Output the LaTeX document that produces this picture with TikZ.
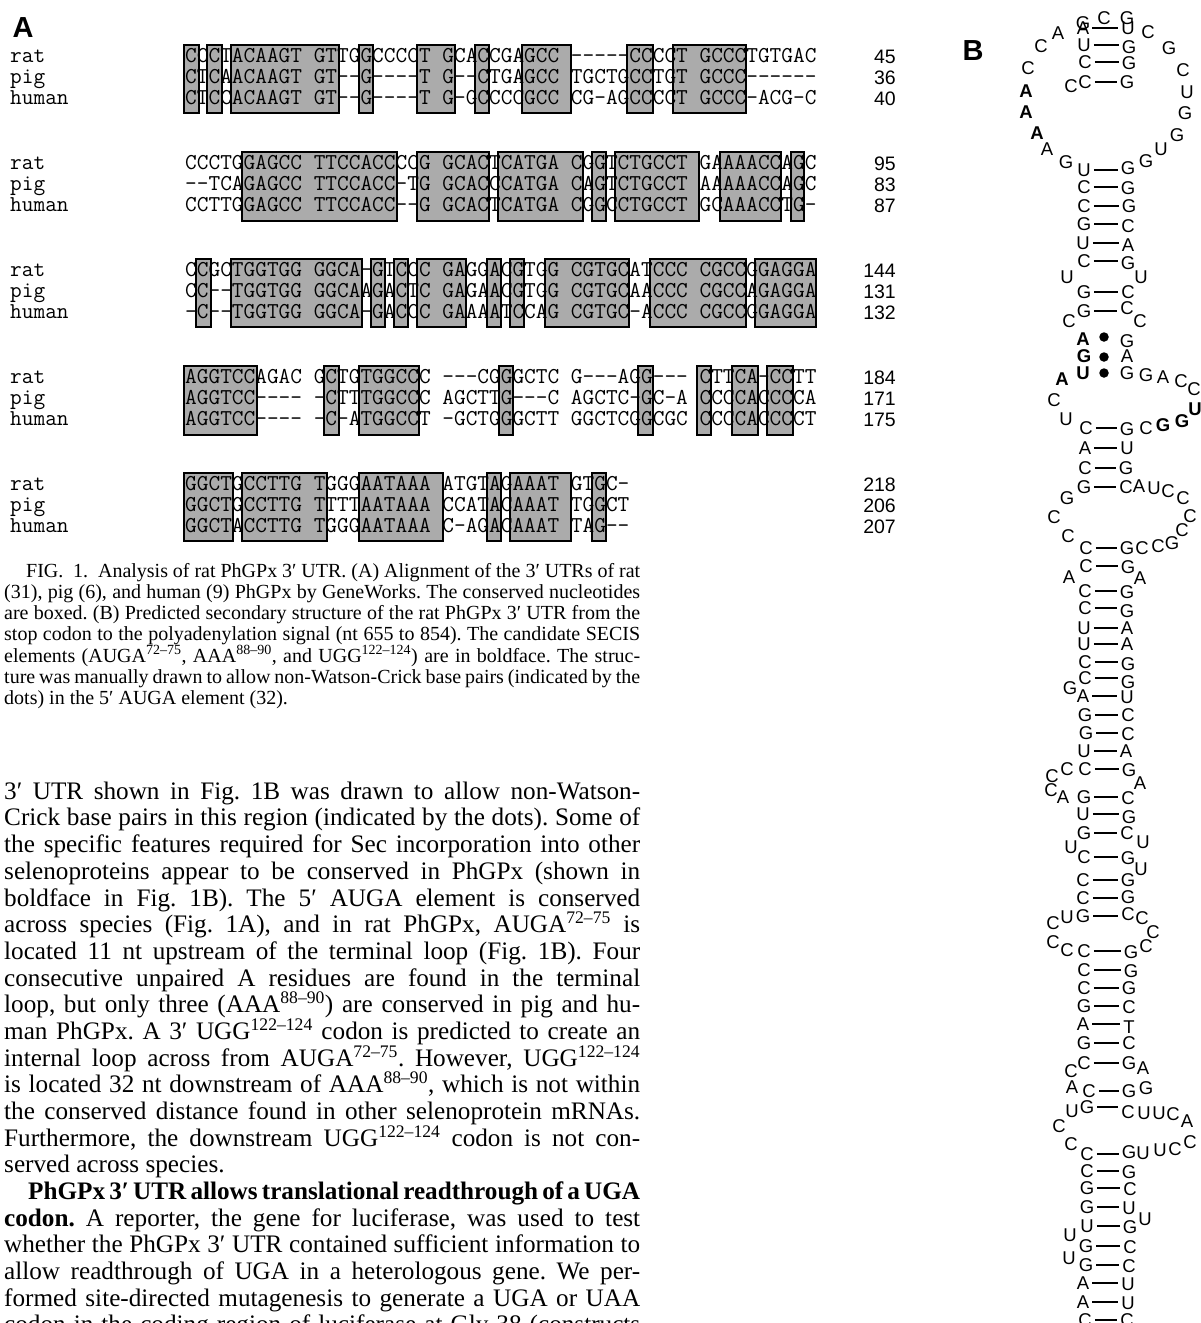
\documentclass[tikz,border=0pt]{standalone}
\usepackage{fontspec}
\setmainfont{Liberation Serif}
\setsansfont{Liberation Sans}

\newcommand{\fitline}[1]{\hbox to 636pt{\frenchspacing\spaceskip=.25em plus 1fil minus .2em\relax #1}}
\newcommand{\pr}{\char"2032\relax}

\tikzset{
	seqbox/.style={draw=black,line width=1.6pt,fill=black!33},
	seqrow/.style={anchor=base west,inner sep=0pt,font=\ttfamily\fontsize{22.7}{24}\selectfont},
	seqnum/.style={anchor=base east,inner sep=0pt,font=\sffamily\fontsize{19.5}{22}\selectfont},
	capline/.style={anchor=base west,inner sep=0pt,font=\fontsize{20}{21}\selectfont},
	bodyline/.style={anchor=base west,inner sep=0pt,font=\fontsize{25.2}{27}\selectfont},
	panel/.style={inner sep=0pt,font=\sffamily\bfseries\fontsize{29}{29}\selectfont},
	base/.style={inner sep=3pt,text height=13.2pt,text depth=0pt,font=\sffamily\fontsize{18.5}{19}\selectfont},
	boldbase/.style={base,font=\sffamily\bfseries\fontsize{18.5}{19}\selectfont},
	pairline/.style={line width=1.4pt},
	dotmark/.style={circle,fill=black,inner sep=0pt,minimum size=9.5pt}
}

\begin{document}
\begin{tikzpicture}[x=1pt,y=-1pt]
	\path[use as bounding box,clip] (0,0) rectangle (1200,1323);

	\node[panel] (panelA) at (23,28) {A};
	\node[panel] (panelB) at (973,51) {B};

	% Draw conserved boxes
	\foreach \t/\b/\xs in {
		45/113/{184/199,207/222,231/339,359/373,417/455,475/489,522/571,627/653,673/746},
		152/221/{242/397,417/489,498/583,592/606,615/699,720/781,791/804},
		259/327/{196/211,231/362,371/385,394/408,417/466,487/501,510/524,545/629,650/746,755/816},
		366/435/{184/257,324/339,359/419,499/513,638/653,697/711,732/758,767/793},
		473/541/{184/233,242/327,359/443,487/501,510/571,592/606}}{
		\foreach \a/\c in \xs {
			\draw[seqbox] (\a,\t) rectangle (\c,\b);
		}
	}

	% Draw alignment rows
	\foreach \y/\sa/\sb/\sc/\na/\nb/\nc [count=\i] in {
		62/CCCTACAAGT GTTGGCCCCT GCACCGAGCC -----CCCCT GCCCTGTGAC/CTCAACAAGT GT--G----T G--CTGAGCC TGCTGCCTGT GCCC------/CTCCACAAGT GT--G----T G-GCCCCGCC CG-AGCCCCT GCCC-ACG-C/45/36/40,
		169/CCCTGGAGCC TTCCACCCCG GCACTCATGA CGGTCTGCCT GAAAACCAGC/--TCAGAGCC TTCCACC-TG GCACCCATGA CAGTCTGCCT AAAAACCAGC/CCTTGGAGCC TTCCACC--G GCACTCATGA CGGCCTGCCT GCAAACCTG-/95/83/87,
		276/CCGCTGGTGG GGCA-GTCCC GAGGACGTGG CGTGCATCCC CGCCGGAGGA/CC--TGGTGG GGCAAGACTC GAGAACGTGG CGTGCAACCC CGCCAGAGGA/-C--TGGTGG GGCA-GACCC GAAAATCCAG CGTGC-ACCC CGCCGGAGGA/144/131/132,
		383/AGGTCCAGAC GCTGTGGCCC ---CGGGCTC G---AGG--- CTTCA-CCTT/AGGTCC---- -CTTTGGCCC AGCTTG---C AGCTC-GC-A CCCCACCCCA/AGGTCC---- -C-ATGGCCT -GCTGGGCTT GGCTCGGCGC CCCCACCCCT/184/171/175,
		490/GGCTGCCTTG TGGGAATAAA ATGTAGAAAT GTGC-/GGCTGCCTTG TTTTAATAAA CCATACAAAT TGGCT/GGCTACCTTG TGGGAATAAA C-AGACAAAT TAG--/218/206/207}{
		\node[seqrow] (rat\i) at (10,\y) {rat};
		\node[seqrow] (pig\i) at (10,\y+21) {pig};
		\node[seqrow] (human\i) at (10,\y+42) {human};
		\node[seqrow] (ratseq\i) at (185,\y) {\sa};
		\node[seqrow] (pigseq\i) at (185,\y+21) {\sb};
		\node[seqrow] (humanseq\i) at (185,\y+42) {\sc};
		\node[seqnum] (ratnum\i) at (896,\y+1) {\na};
		\node[seqnum] (pignum\i) at (896,\y+22) {\nb};
		\node[seqnum] (humannum\i) at (896,\y+43) {\nc};
	}

	% Draw caption
	\foreach \l [count=\i from 0] in {
		{\fitline{\hskip22pt FIG.\ \ 1.\ \ Analysis of rat PhGPx 3\pr\ UTR. (A) Alignment of the 3\pr\ UTRs of rat}},
		{\fitline{(31), pig (6), and human (9) PhGPx by GeneWorks. The conserved nucleotides}},
		{\fitline{are boxed. (B) Predicted secondary structure of the rat PhGPx 3\pr\ UTR from the}},
		{\fitline{stop codon to the polyadenylation signal (nt 655 to 854). The candidate SECIS}},
		{\fitline{elements (AUGA\textsuperscript{72--75}, AAA\textsuperscript{88--90}, and UGG\textsuperscript{122--124}) are in boldface. The struc-}},
		{\fitline{ture was manually drawn to allow non-Watson-Crick base pairs (indicated by the}},
		{dots) in the 5\pr\ AUGA element (32).}}{
		\node[capline] (cap\i) at (4,577+21.3*\i) {\l};
	}

	% Draw body text
	\foreach \l [count=\i from 0] in {
		{\fitline{3\pr\ UTR shown in Fig. 1B was drawn to allow non-Watson-}},
		{\fitline{Crick base pairs in this region (indicated by the dots). Some of}},
		{\fitline{the specific features required for Sec incorporation into other}},
		{\fitline{selenoproteins appear to be conserved in PhGPx (shown in}},
		{\fitline{boldface in Fig. 1B). The 5\pr\ AUGA element is conserved}},
		{\fitline{across species (Fig. 1A), and in rat PhGPx, AUGA\textsuperscript{72--75} is}},
		{\fitline{located 11 nt upstream of the terminal loop (Fig. 1B). Four}},
		{\fitline{consecutive unpaired A residues are found in the terminal}},
		{\fitline{loop, but only three (AAA\textsuperscript{88--90}) are conserved in pig and hu-}},
		{\fitline{man PhGPx. A 3\pr\ UGG\textsuperscript{122--124} codon is predicted to create an}},
		{\fitline{internal loop across from AUGA\textsuperscript{72--75}. However, UGG\textsuperscript{122--124}}},
		{\fitline{is located 32 nt downstream of AAA\textsuperscript{88--90}, which is not within}},
		{\fitline{the conserved distance found in other selenoprotein mRNAs.}},
		{\fitline{Furthermore, the downstream UGG\textsuperscript{122--124} codon is not con-}},
		{served across species.},
		{\fitline{\hskip24pt\textbf{PhGPx 3\pr\ UTR allows translational readthrough of a UGA}}},
		{\fitline{\textbf{codon.} A reporter, the gene for luciferase, was used to test}},
		{\fitline{whether the PhGPx 3\pr\ UTR contained sufficient information to}},
		{\fitline{allow readthrough of UGA in a heterologous gene. We per-}},
		{\fitline{formed site-directed mutagenesis to generate a UGA or UAA}},
		{\fitline{codon in the coding region of luciferase at Gly 38 (constructs}}}{
		\node[bodyline] (body\i) at (4,799.3+26.68*\i) {\l};
	}

	% Draw base pairs
	\foreach \xa/\ya/\ca/\xb/\yb/\cb [count=\i] in {
		1083/28/A/1128/28/U, 1084/45/U/1129/47/G, 1085/62/C/1129/63/G, 1085/82/C/1127/82/G,
		1084/170/U/1128/168/G, 1084/187/C/1128/188/G, 1084/206/C/1129/206/G, 1084/224/G/1128/226/C,
		1083/243/U/1128/245/A, 1084/261/C/1128/263/G, 1084/292/G/1128/292/C, 1084/311/G/1127/308/C,
		1086/428/C/1127/429/G, 1085/448/A/1127/448/U, 1085/468/C/1126/468/G, 1084/487/G/1126/487/C,
		1086/548/C/1127/548/G, 1086/566/C/1128/567/G, 1085/591/C/1127/592/G, 1085/608/C/1127/611/G,
		1084/628/U/1127/628/A, 1084/644/U/1127/644/A, 1085/662/C/1128/664/G, 1085/678/C/1128/682/G,
		1083/696/A/1127/697/U, 1085/715/G/1128/715/C, 1086/733/G/1128/734/C, 1084/751/U/1126/751/A,
		1085/769/C/1129/770/G, 1084/797/G/1128/798/C, 1083/814/U/1129/817/G, 1084/833/G/1127/833/C,
		1084/857/C/1128/858/G, 1083/880/C/1128/880/G, 1083/898/C/1128/897/G, 1083/916/G/1128/914/C,
		1084/951/C/1131/952/G, 1084/970/C/1131/971/G, 1084/988/C/1129/988/G, 1084/1006/G/1129/1007/C,
		1083/1024/A/1129/1027/T, 1084/1043/G/1129/1043/C, 1084/1063/C/1129/1063/G, 1089/1091/C/1129/1091/G,
		1087/1107/G/1128/1112/C, 1087/1154/C/1129/1152/G, 1087/1171/C/1129/1172/G, 1087/1188/G/1130/1189/C,
		1087/1207/G/1129/1208/U, 1087/1226/U/1130/1227/G, 1086/1246/G/1130/1247/C, 1086/1265/G/1129/1266/C,
		1083/1283/A/1128/1284/U, 1083/1302/A/1128/1303/U, 1085/1320/C/1127/1320/C}{
		\node[base] (pl\i) at (\xa,\ya) {\ca};
		\node[base] (pr\i) at (\xb,\yb) {\cb};
		\draw[pairline] (pl\i.east) -- (pl\i.east -| pr\i.west);
	}

	% Draw unpaired bases
	\foreach \x/\y/\c [count=\i] in {
		1083/23/G, 1104/18/C, 1127/18/G,
		1058/33/A, 1041/46/C, 1028/68/C, 1047/149/A, 1066/162/G, 1071/86/C, 1148/32/C, 1169/48/G, 1183/70/C,
		1187/92/U, 1185/113/G, 1177/135/G, 1161/149/U, 1146/161/G, 1067/277/U, 1141/277/U, 1069/321/C, 1140/321/C,
		1127/341/G, 1127/356/A, 1127/373/G, 1146/375/G, 1163/377/A, 1181/381/C, 1194/389/C, 1146/428/C, 1054/400/C, 1066/419/U,
		1139/486/A, 1154/488/U, 1168/491/C, 1183/498/C, 1190/516/C, 1182/530/C, 1172/543/G, 1158/546/C, 1142/548/C,
		1067/498/G, 1054/517/C, 1068/536/C, 1069/577/A, 1140/578/A, 1070/688/G, 1067/769/C, 1052/776/C, 1051/790/C,
		1063/797/A, 1140/783/A, 1143/842/U, 1071/847/U, 1141/869/U, 1067/917/U, 1053/923/C, 1142/918/C, 1153/932/C,
		1146/946/C, 1053/942/C, 1067/950/C, 1143/1068/A, 1071/1071/C, 1072/1087/A, 1146/1088/G, 1072/1111/U, 1144/1113/U,
		1159/1113/U, 1173/1114/C, 1187/1121/A, 1059/1126/C, 1071/1144/C, 1190/1142/C, 1175/1149/C, 1160/1150/U, 1143/1153/U,
		1145/1219/U, 1070/1235/U, 1069/1258/U}{
		\node[base] (free\i) at (\x,\y) {\c};
	}

	% Draw candidate SECIS bases
	\foreach \x/\y/\c [count=\i] in {
		1026/91/A, 1026/112/A, 1037/133/A, 1083/339/A, 1084/356/G, 1083/373/U, 1062/379/A, 1195/409/U, 1182/421/G, 1163/425/G}{
		\node[boldbase] (secis\i) at (\x,\y) {\c};
	}

	% Draw non-Watson-Crick dots
	\foreach \y [count=\i] in {337,357,373}{
		\node[dotmark] (dot\i) at (1104,\y) {};
	}
\end{tikzpicture}
\end{document}
